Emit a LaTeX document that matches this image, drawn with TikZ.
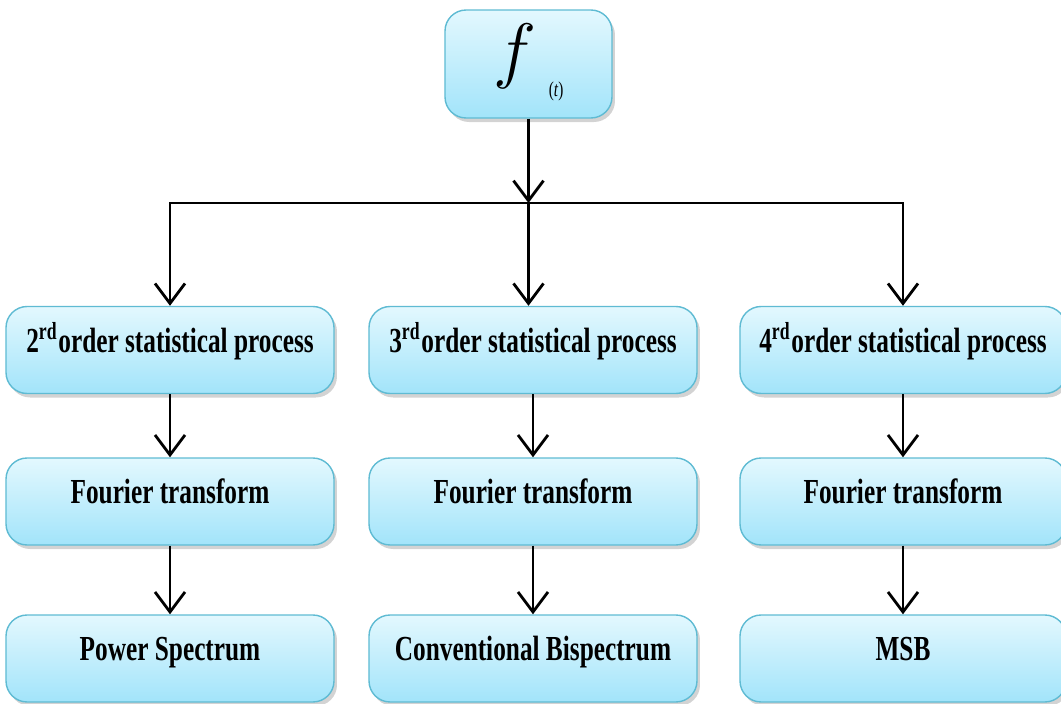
\documentclass[tikz,border=0pt]{standalone}
\usepackage{fontspec}
\setmainfont{Liberation Serif}[FakeStretch=0.72]
\usepackage{tikz}
\usetikzlibrary{arrows.meta,positioning,shadows,calc}
\definecolor{boxtop}{HTML}{E3F8FE}
\definecolor{boxbot}{HTML}{A2E4FA}
\definecolor{boxedge}{HTML}{5FBBD3}

\tikzset{
  procbox/.style={draw=boxedge, top color=boxtop, bottom color=boxbot, rounded corners=6pt,
    minimum width=3.28cm, minimum height=0.87cm, text height=0.3cm, text depth=0.26cm,
    font=\fontsize{10}{12}\selectfont\bfseries,
    drop shadow={shadow xshift=0.03cm, shadow yshift=-0.04cm, opacity=0.35}},
  flow/.style={thick, -{Straight Barb[length=2mm,width=3mm]}}
}

\begin{document}
\begin{tikzpicture}
      \useasboundingbox (0,0) rectangle (10.61,-7.04);

      % source signal
      \node[procbox, minimum width=1.67cm, minimum height=1.08cm, text height=0.42cm, text depth=0.22cm]
        (sig) at (5.285,-0.64) {\fontsize{21}{21}\selectfont$f$\,\raisebox{-0.22cm}{\fontsize{6}{6}\selectfont\mdseries(\textit{t})}};
      \coordinate (hub) at (5.285,-2.03);

      % first row
      \node[procbox] (ord2) at (1.70,-3.50) {2\textsuperscript{rd}order statistical process};
      \node[procbox] (ord3) at (5.33,-3.50) {3\textsuperscript{rd}order statistical process};
      \node[procbox, minimum width=3.26cm] (ord4) at (9.03,-3.50) {4\textsuperscript{rd}order statistical process};

      % second row
      \node[procbox] (ft2) at (1.70,-5.015) {Fourier transform};
      \node[procbox] (ft3) at (5.33,-5.015) {Fourier transform};
      \node[procbox, minimum width=3.26cm] (ft4) at (9.03,-5.015) {Fourier transform};

      % third row
      \node[procbox] (ps) at (1.70,-6.585) {Power Spectrum};
      \node[procbox] (cb) at (5.33,-6.585) {Conventional Bispectrum};
      \node[procbox, minimum width=3.26cm] (msb) at (9.03,-6.585) {MSB};

      \draw[flow] (sig) -- (hub);
      \draw[flow] (hub) -- (hub -| ord2.north) -- (ord2.north);
      \draw[flow] (hub) -- (hub |- ord3.north);
      \draw[flow] (hub) -- (hub -| ord4.north) -- (ord4.north);

      \draw[flow] (ord2) -- (ft2);
      \draw[flow] (ord3) -- (ft3);
      \draw[flow] (ord4) -- (ft4);
      \draw[flow] (ft2) -- (ps);
      \draw[flow] (ft3) -- (cb);
      \draw[flow] (ft4) -- (msb);
    \end{tikzpicture}
\end{document}
